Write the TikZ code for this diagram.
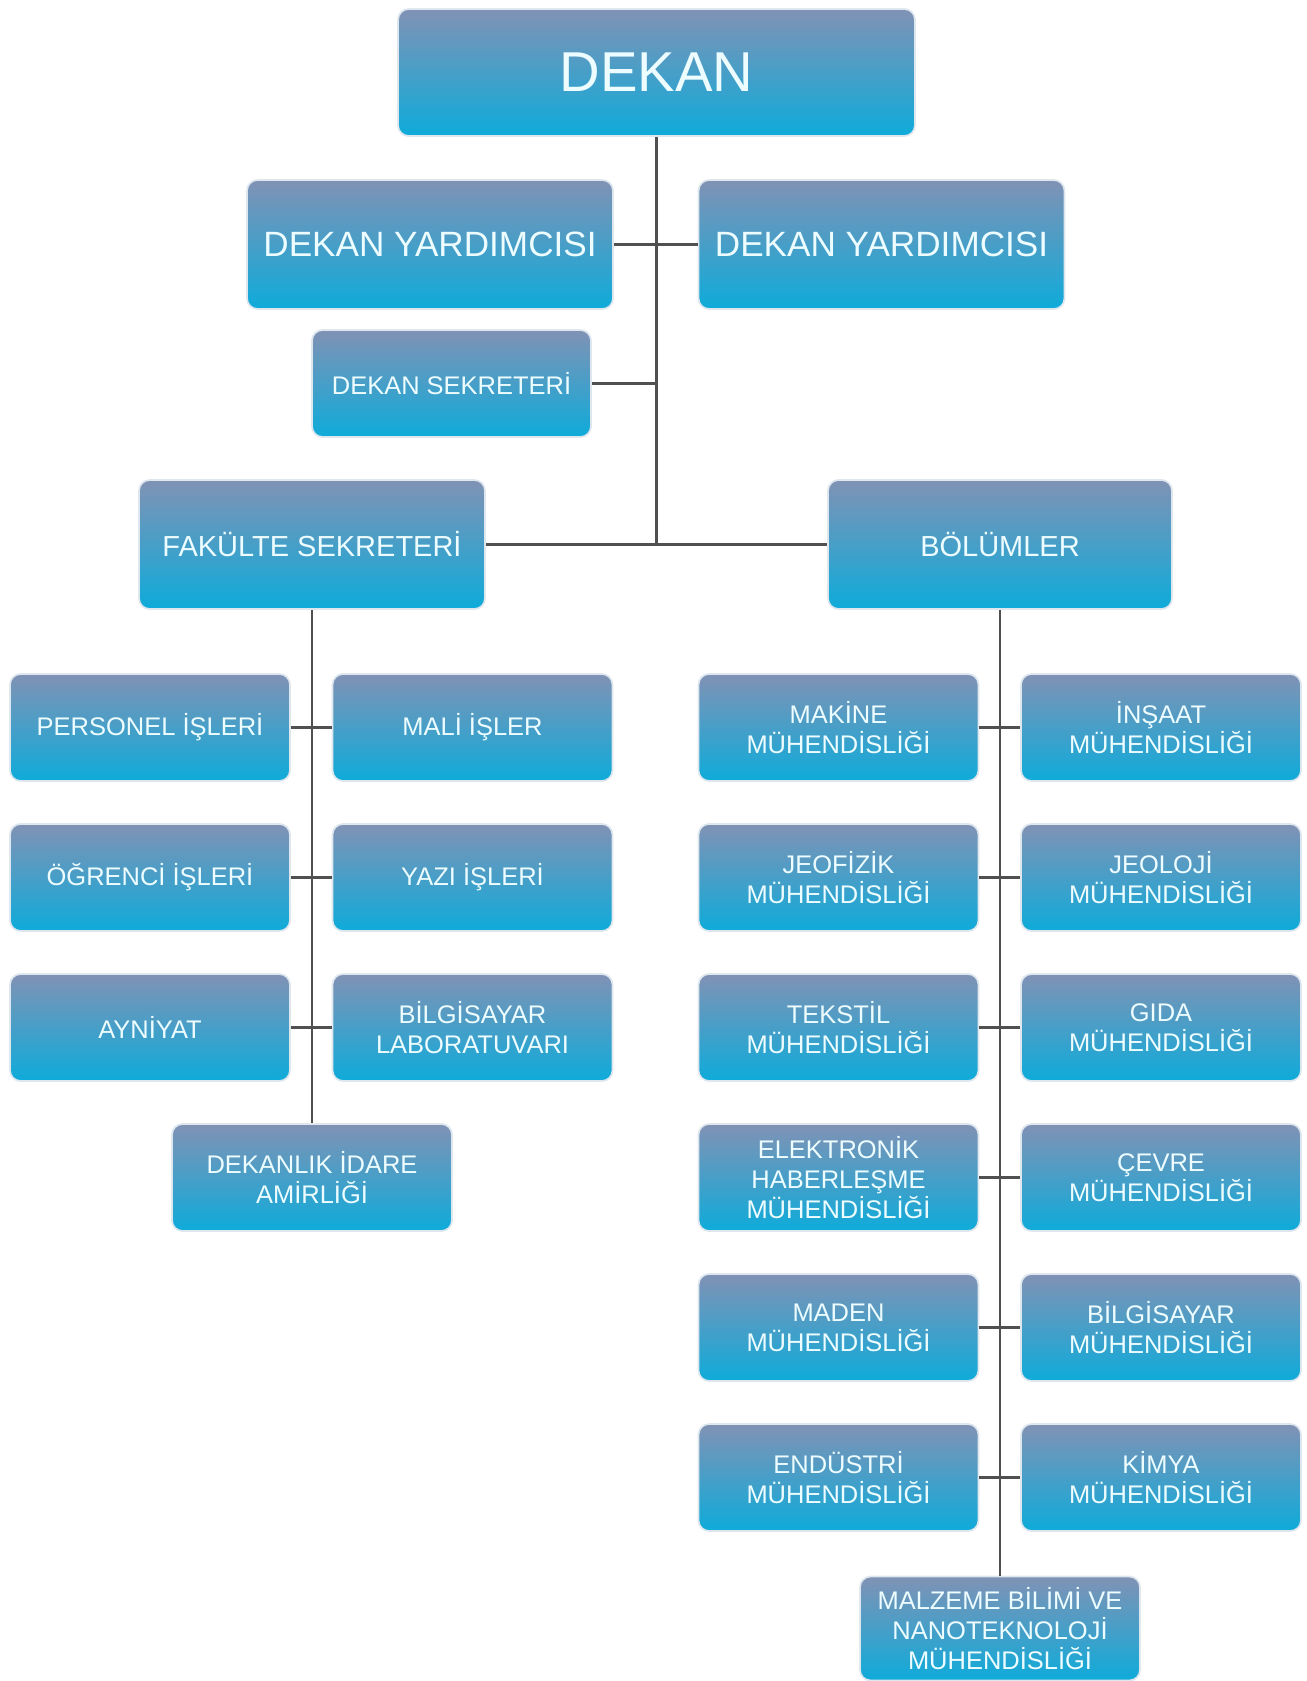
\documentclass[tikz,border=0pt]{standalone}
\usepackage{fontspec}
\setmainfont{Liberation Sans}
\usepackage{tikz}
\usetikzlibrary{calc}
\usetikzlibrary{shapes}

\definecolor{boxtop}{RGB}{128,146,181}
\definecolor{boxmid}{RGB}{78,158,204}
\definecolor{boxbot}{RGB}{14,171,218}
\definecolor{boxedge}{RGB}{222,230,238}
\definecolor{linkgray}{RGB}{80,80,80}
\definecolor{boxtext}{RGB}{236,252,255}

\begin{document}
\begin{tikzpicture}[x=0.02cm,y=-0.02cm]
            \tikzstyle{box} = [draw=boxedge, line width=1pt, rounded corners=6pt, top color=boxtop, middle color=boxmid, bottom color=boxbot, text=boxtext, align=center, inner sep=2pt, minimum width=5.6cm, minimum height=2.14cm, font=\fontsize{14.5}{17}\selectfont]
            \tikzstyle{link} = [draw=linkgray, line width=1.6pt]
            \useasboundingbox (0,0) rectangle (1307,1681);

            \node (dekan) [box, minimum width=10.34cm, minimum height=2.54cm, font=\fontsize{32}{36}\selectfont] at (656.5,72.5) {DEKAN};
            \node (dy1) [box, minimum width=7.32cm, minimum height=2.58cm, font=\fontsize{20}{24}\selectfont] at (430,244.5) {DEKAN YARDIMCISI};
            \node (dy2) [box, minimum width=7.32cm, minimum height=2.58cm, font=\fontsize{20}{24}\selectfont] at (881.5,244.5) {DEKAN YARDIMCISI};
            \node (dsek) [box, minimum width=5.58cm] at (451.5,383.5) {DEKAN SEKRETERİ};
            \node (fak) [box, minimum width=6.92cm, minimum height=2.58cm, font=\fontsize{16.5}{20}\selectfont] at (312,544.5) {FAKÜLTE SEKRETERİ};
            \node (bol) [box, minimum width=6.88cm, minimum height=2.58cm, font=\fontsize{16.5}{20}\selectfont] at (1000,544.5) {BÖLÜMLER};

            \draw [link] (dekan.south) -- (dekan.south |- fak.east);
            \draw [link] (dy1) -- (dy2);
            \draw [link] (dsek.east) -- (dsek.east -| dekan.south);
            \draw [link] (fak) -- (bol);

            % fakulte sekreterligi birimleri
            \node (per) [box] at (150,727.5) {PERSONEL İŞLERİ};
            \node (mali) [box] at (472.5,727.5) {MALİ İŞLER};
            \node (ogr) [box] at (150,877.5) {ÖĞRENCİ İŞLERİ};
            \node (yazi) [box] at (472.5,877.5) {YAZI İŞLERİ};
            \node (ayn) [box] at (150,1027.5) {AYNİYAT};
            \node (blab) [box] at (472.5,1027.5) {BİLGİSAYAR\\LABORATUVARI};
            \node (idare) [box] at (312,1177.5) {DEKANLIK İDARE\\AMİRLİĞİ};
            \draw [link] (fak.south) -- (idare.north);
            \draw [link] (per) -- (mali);
            \draw [link] (ogr) -- (yazi);
            \draw [link] (ayn) -- (blab);

            % bolumler
            \node (mak) [box] at (838.5,727.5) {MAKİNE\\MÜHENDİSLİĞİ};
            \node (ins) [box] at (1161,727.5) {İNŞAAT\\MÜHENDİSLİĞİ};
            \node (jfz) [box] at (838.5,877.5) {JEOFİZİK\\MÜHENDİSLİĞİ};
            \node (jeo) [box] at (1161,877.5) {JEOLOJİ\\MÜHENDİSLİĞİ};
            \node (tek) [box] at (838.5,1027.5) {TEKSTİL\\MÜHENDİSLİĞİ};
            \node (gida) [box] at (1161,1027.5) {GIDA\\MÜHENDİSLİĞİ};
            \node (elk) [box] at (838.5,1177.5) {ELEKTRONİK\\HABERLEŞME\\MÜHENDİSLİĞİ};
            \node (cev) [box] at (1161,1177.5) {ÇEVRE\\MÜHENDİSLİĞİ};
            \node (mad) [box] at (838.5,1327.5) {MADEN\\MÜHENDİSLİĞİ};
            \node (bil) [box] at (1161,1327.5) {BİLGİSAYAR\\MÜHENDİSLİĞİ};
            \node (end) [box] at (838.5,1477.5) {ENDÜSTRİ\\MÜHENDİSLİĞİ};
            \node (kim) [box] at (1161,1477.5) {KİMYA\\MÜHENDİSLİĞİ};
            \node (malz) [box, minimum height=2.08cm] at (1000,1628.5) {MALZEME BİLİMİ VE\\NANOTEKNOLOJİ\\MÜHENDİSLİĞİ};
            \draw [link] (bol.south) -- (malz.north);
            \draw [link] (mak) -- (ins);
            \draw [link] (jfz) -- (jeo);
            \draw [link] (tek) -- (gida);
            \draw [link] (elk) -- (cev);
            \draw [link] (mad) -- (bil);
            \draw [link] (end) -- (kim);
        \end{tikzpicture}
\end{document}
